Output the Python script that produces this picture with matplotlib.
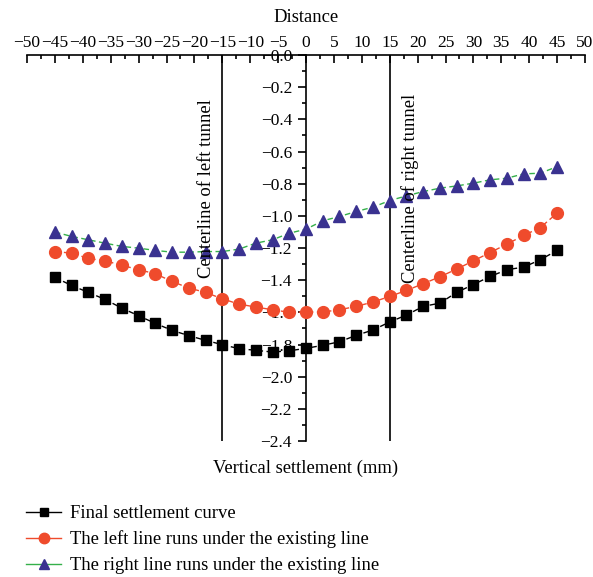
import matplotlib
matplotlib.use("Agg")
import matplotlib.pyplot as plt
from matplotlib.lines import Line2D
from matplotlib.ticker import MultipleLocator

plt.rcParams["font.family"] = ["Liberation Serif", "DejaVu Serif"]

# ── data ──────────────────────────────────────────────────────────────────────
distance = list(range(-45, 46, 3))

final_settlement = [
    -1.383, -1.433, -1.476, -1.520, -1.574, -1.621, -1.669, -1.712, -1.745,
    -1.774, -1.801, -1.826, -1.836, -1.847, -1.839, -1.824, -1.805, -1.783,
    -1.743, -1.710, -1.660, -1.617, -1.563, -1.543, -1.476, -1.427, -1.377,
    -1.335, -1.319, -1.273, -1.215,
]
left_line = [
    -1.222, -1.232, -1.265, -1.280, -1.307, -1.335, -1.360, -1.408, -1.449,
    -1.476, -1.516, -1.549, -1.567, -1.584, -1.600, -1.598, -1.598, -1.584,
    -1.563, -1.536, -1.501, -1.464, -1.422, -1.379, -1.331, -1.280, -1.228,
    -1.176, -1.122, -1.073, -0.983,
]
right_line = [
    -1.101, -1.128, -1.149, -1.170, -1.190, -1.201, -1.215, -1.226, -1.226,
    -1.222, -1.222, -1.207, -1.170, -1.149, -1.108, -1.083, -1.031, -1.004,
    -0.973, -0.946, -0.905, -0.876, -0.849, -0.828, -0.814, -0.797, -0.776,
    -0.766, -0.739, -0.735, -0.694,
]
tunnel_centers = [-15, 15]
tunnel_labels = ["Centerline of left tunnel", "Centerline of right tunnel"]
series_labels = [
    "Final settlement curve",
    "The left line runs under the existing line",
    "The right line runs under the existing line",
]

# ── style ─────────────────────────────────────────────────────────────────────
RED = "#EF4B2C"
NAVY = "#3A3290"
GREEN = "#35B04A"
dash = (0, (4, 2.5))

fig = plt.figure(figsize=(5.93, 5.77), dpi=100)
ax = fig.add_axes([27 / 593, 1 - 441 / 577, 558 / 593, 386 / 577])

ax.plot(distance, final_settlement, color="black", ls=dash, lw=1,
        marker="s", ms=7, mfc="black", mec="black", zorder=3)
ax.plot(distance, left_line, color=RED, ls=dash, lw=1,
        marker="o", ms=8.5, mfc=RED, mec=RED, zorder=3)
ax.plot(distance, right_line, color=GREEN, ls=dash, lw=1,
        marker="^", ms=8.5, mfc=NAVY, mec=NAVY, zorder=3)

for xc, lab, dx in zip(tunnel_centers, tunnel_labels, [-2.8, 3.6]):
    ax.axvline(xc, color="black", lw=1.2, zorder=2)
    ax.text(xc + dx, -0.83, lab, rotation=90, ha="center", va="center",
            fontsize=13.4)

ax.set_xlim(-50, 50)
ax.set_ylim(-2.4, 0)

# axes: top spine with distance, y spine through x=0
ax.spines["bottom"].set_visible(False)
ax.spines["right"].set_visible(False)
ax.spines["left"].set_position(("data", 0))
ax.spines["top"].set_linewidth(1.2)
ax.spines["left"].set_linewidth(1.2)

ax.xaxis.set_ticks_position("top")
ax.xaxis.set_label_position("top")
ax.xaxis.set_major_locator(MultipleLocator(5))
ax.xaxis.set_minor_locator(MultipleLocator(2.5))
ax.tick_params(axis="x", which="major", direction="in", length=6, width=1.2,
               labelsize=12.5, pad=3)
ax.tick_params(axis="x", which="minor", direction="in", length=3, width=1.2)

ax.yaxis.set_major_locator(MultipleLocator(0.2))
ax.yaxis.set_minor_locator(MultipleLocator(0.1))
ax.tick_params(axis="y", which="major", direction="out", length=6, width=1.2,
               labelsize=12.5, pad=4)
ax.tick_params(axis="y", which="minor", direction="out", length=3, width=1.2)
ax.yaxis.set_major_formatter(plt.FuncFormatter(lambda v, p: f"{v:.1f}".replace("-", "\u2212")))
ax.xaxis.set_major_formatter(plt.FuncFormatter(lambda v, p: f"{v:.0f}".replace("-", "\u2212")))

ax.set_xlabel("Distance", fontsize=13.4, labelpad=9)
fig.text(306 / 593, 1 - 468 / 577, "Vertical settlement (mm)", ha="center",
         va="center", fontsize=13.4)

handles = [
    Line2D([], [], color="black", lw=1, marker="s", ms=6, mfc="black", mec="black"),
    Line2D([], [], color=RED, lw=1, marker="o", ms=7.5, mfc=RED, mec=RED),
    Line2D([], [], color=GREEN, lw=1, marker="^", ms=7.5, mfc=NAVY, mec=NAVY),
]
fig.legend(handles, series_labels, loc="upper left",
           bbox_to_anchor=(26 / 593, 1 - 505 / 577), frameon=False,
           fontsize=13.4, handlelength=1.9, handletextpad=0.45,
           labelspacing=0.46, borderaxespad=0, borderpad=0)

fig.savefig("out.png", dpi=100)
